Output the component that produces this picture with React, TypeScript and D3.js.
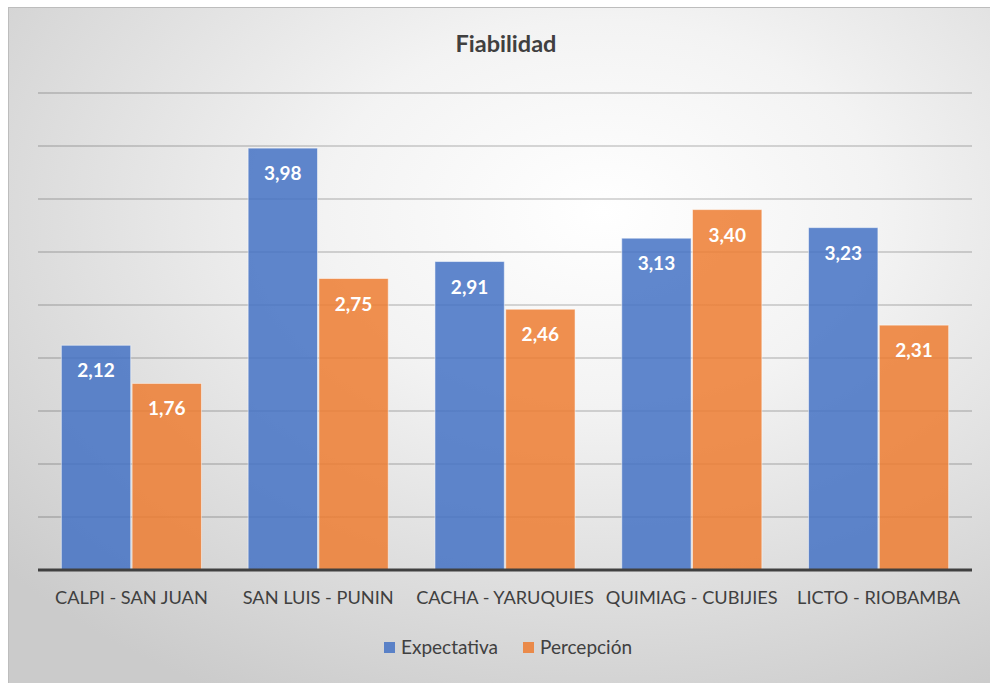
import React from "react";
import * as d3 from "d3";

const categories = ["CALPI - SAN JUAN", "SAN LUIS - PUNIN", "CACHA - YARUQUIES", "QUIMIAG - CUBIJIES", "LICTO - RIOBAMBA"];
const expectativa = [2.12, 3.98, 2.91, 3.13, 3.23];
const percepcion = [1.76, 2.75, 2.46, 3.40, 2.31];
const seriesNames = ["Expectativa", "Percepción"];
const seriesColors = ["#4472C4", "#ED7D31"];
const gridTicks = [0.5, 1, 1.5, 2, 2.5, 3, 3.5, 4, 4.5];
const title = "Fiabilidad";

const W = 990;
const H = 683;
const FONT = "Lato, 'Open Sans', sans-serif";

export default function App() {
  const left = 38, right = 972, top = 93, bottom = 570;
  const x = d3.scaleBand<string>().domain(categories).range([left, right]).paddingInner(0.25).paddingOuter(0.125);
  const xi = d3.scaleBand<string>().domain(seriesNames).range([0, x.bandwidth()]).paddingInner(0.02);
  const y = d3.scaleLinear().domain([0, 4.5]).range([bottom, top]);
  const series = [expectativa, percepcion];
  const fmt = (v: number) => v.toFixed(2).replace(".", ",");

  return (
    <svg width={W} height={H} style={{ position: "absolute", left: 0, top: 0, display: "block" }}>
      <defs>
        <radialGradient id="bg" cx="0.6" cy="0.3" r="0.8" gradientUnits="objectBoundingBox">
          <stop offset="0" stopColor="#ffffff" />
          <stop offset="0.35" stopColor="#f3f3f3" />
          <stop offset="1" stopColor="#cbcbcb" />
        </radialGradient>
      </defs>
      <rect x={0} y={0} width={W} height={H} fill="#ffffff" />
      <rect x={8.5} y={7.5} width={W} height={H} fill="url(#bg)" stroke="#bdbdbd" strokeWidth={1} />
      <text x={506} y={52} textAnchor="middle" fontFamily={FONT} fontWeight="bold" fontSize={23.5} fill="#404040">{title}</text>
      {gridTicks.map((t) => (
        <line key={t} x1={left} x2={right} y1={y(t)} y2={y(t)} stroke="#000" strokeOpacity={0.2} strokeWidth={1.5} />
      ))}
      {categories.map((c, ci) => (
        <g key={c}>
          {series.map((s, si) => {
            const bx = (x(c) as number) + (xi(seriesNames[si]) as number);
            const bw = xi.bandwidth();
            return (
              <g key={si}>
                <rect x={bx} y={y(s[ci])} width={bw} height={y(0) - y(s[ci])} fill={seriesColors[si]} fillOpacity={0.85} stroke="#ffffff" strokeOpacity={0.5} strokeWidth={1} />
                <text x={bx + bw / 2} y={y(s[ci]) + 32} textAnchor="middle" fontFamily={FONT} fontWeight="bold" fontSize={19} fill="#ffffff">{fmt(s[ci])}</text>
              </g>
            );
          })}
          <text x={(x(c) as number) + x.bandwidth() / 2} y={604} textAnchor="middle" fontFamily={FONT} fontSize={18.2} fill="#404040">{c}</text>
        </g>
      ))}
      <line x1={left} x2={right} y1={bottom} y2={bottom} stroke="#404040" strokeWidth={3} />
      {seriesNames.map((n, i) => {
        const lx = [384, 523][i];
        return (
          <g key={n}>
            <rect x={lx} y={642} width={11} height={11} fill={seriesColors[i]} fillOpacity={0.85} />
            <text x={lx + 17} y={654} fontFamily={FONT} fontSize={19} fill="#404040">{n}</text>
          </g>
        );
      })}
    </svg>
  );
}
